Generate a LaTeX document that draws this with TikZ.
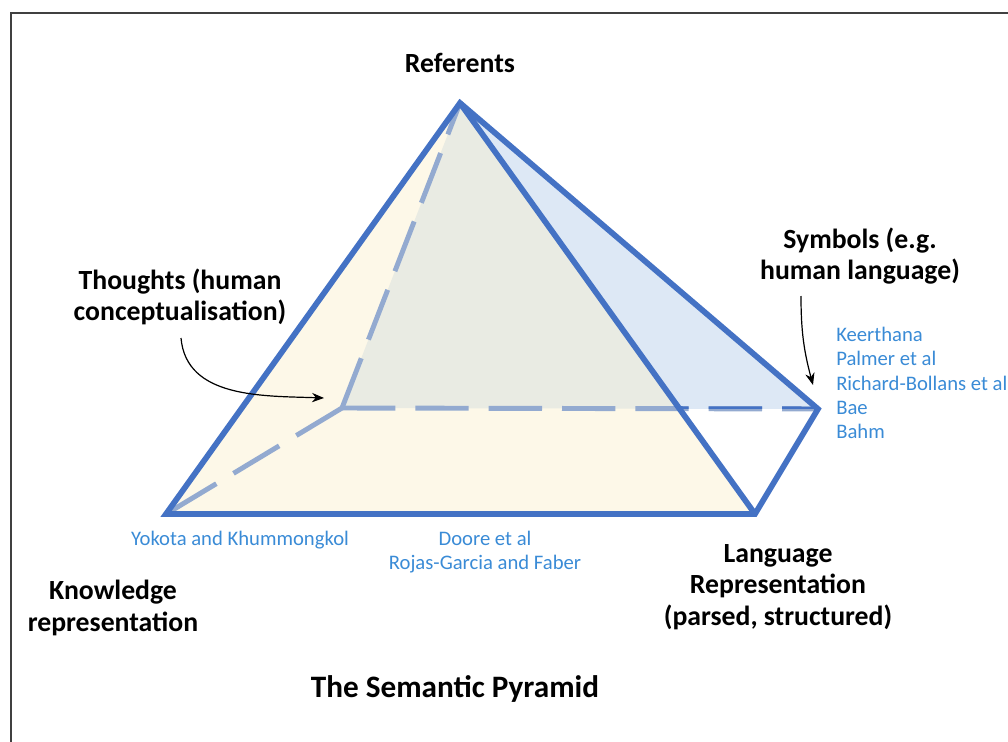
\documentclass[tikz,border=0pt]{standalone}
\usepackage{fontspec}
\setmainfont{Carlito}
\usetikzlibrary{arrows.meta}

\definecolor{rimblue}{HTML}{4472C4}
\definecolor{backblue}{HTML}{93AAD0}
\definecolor{creamfill}{HTML}{FDF8E8}
\definecolor{greyfill}{HTML}{E9EBE3}
\definecolor{skyfill}{HTML}{DDE8F5}
\definecolor{refblue}{HTML}{3A8BD6}

\begin{document}
\begin{tikzpicture}[x = 0.75pt,
                    y = -0.75pt,
                    rim/.style = {line width = 4.3pt, draw = rimblue, line join = miter},
                    backline/.style = {line width = 3.7pt, draw = backblue, dash pattern = on 40pt off 15pt},
                    boldtext/.style = {font = \bfseries\fontsize{20.8}{23.7}\selectfont, align = center, inner sep = 0pt},
                    reftext/.style = {font = \fontsize{15.5}{18.3}\selectfont, text = refblue, align = center, inner sep = 0pt},
                    pointer/.style = {line width = 0.9pt, -{Stealth[length = 9pt, width = 7pt]}}]

    \useasboundingbox (0,0) rectangle (1008,742);
    \draw[line width = 1.5pt, draw = black!75] (11,13) rectangle (1030,760);

    % corners of the pyramid
    \coordinate (A)  at (460,103);
    \coordinate (BL) at (166,514);
    \coordinate (BR) at (755,514);
    \coordinate (R)  at (818,409);
    \coordinate (H)  at (342,408);
    \coordinate (X)  at (intersection of A--BR and H--R);

    % faces
    \fill[creamfill] (A) -- (BL) -- (BR) -- cycle;
    \fill[greyfill]  (A) -- (H) -- (X) -- cycle;
    \fill[skyfill]   (A) -- (X) -- (R) -- cycle;

    % hidden edges
    \foreach \j in {A, BL, R}
    {
        \draw[backline] (H) -- (\j);
    }
    \begin{scope}
        \clip (X) rectangle (1008,300);
        \draw[backline, draw = rimblue] (H) -- (R);
    \end{scope}

    % visible edges
    \draw[rim] (BL) -- (A) -- (R) -- (BR) -- cycle;
    \draw[rim] (A) -- (BR);

    % labels
    \node[boldtext] (referents) at (460,63)  {Referents};
    \node[boldtext] (thoughts)  at (180,297) {Thoughts (human\\conceptualisation)};
    \node[boldtext] (symbols)   at (860,256) {Symbols (e.g.\\human language)};
    \node[boldtext] (knowledge) at (113,608) {Knowledge\\representation};
    \node[boldtext] (language)  at (778,587) {Language\\Representation\\(parsed, structured)};
    \node[boldtext, font = \bfseries\fontsize{23.4}{28}\selectfont] (title) at (455,689) {The Semantic Pyramid};

    \node[reftext, align = left, anchor = west] (symrefs) at (836,383)
        {Keerthana\\Palmer et al\\Richard-Bollans et al\\Bae\\Bahm};
    \node[reftext] (kbrefs)   at (240,540) {Yokota and Khummongkol};
    \node[reftext] (langrefs) at (485,552) {Doore et al\\Rojas-Garcia and Faber};

    % pointers
    \coordinate (thoughtstail) at (181,338);
    \coordinate (thoughtshead) at (324,398);
    \coordinate (symbolstail)  at (801,296);
    \coordinate (symbolshead)  at (813,385);
    \draw[pointer] (thoughtstail) to[out = -85, in = 178] (thoughtshead);
    \draw[pointer] (symbolstail) to[out = -90, in = 105] (symbolshead);
\end{tikzpicture}
\end{document}
